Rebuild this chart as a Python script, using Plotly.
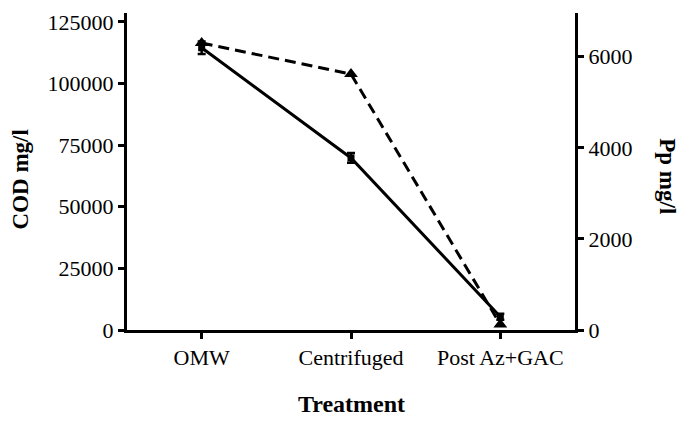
import plotly.graph_objects as go

categories = ["OMW", "Centrifuged", "Post Az+GAC"]
cod_values = [114500, 69800, 5400]
cod_errors = [2500, 2000, 1200]
pp_values = [6300, 5620, 120]

left_ticks = [0, 25000, 50000, 75000, 100000, 125000]
right_ticks = [0, 2000, 4000, 6000]

FONT = "Liberation Serif"
TICK_SIZE = 22
x_idx = list(range(len(categories)))

fig = go.Figure()
fig.add_trace(go.Scatter(
    x=x_idx, y=cod_values, mode="lines+markers", name="COD",
    line=dict(color="black", width=3),
    marker=dict(symbol="square", size=7, color="black"),
    error_y=dict(type="data", array=cod_errors, color="black", thickness=2.5, width=4),
    yaxis="y", cliponaxis=False,
))
fig.add_trace(go.Scatter(
    x=x_idx, y=pp_values, mode="lines+markers", name="Pp",
    line=dict(color="black", width=3, dash="11px,6px"),
    marker=dict(symbol="triangle-up", size=12, color="black"),
    yaxis="y2", cliponaxis=False,
))

axis_common = dict(
    showline=True, linecolor="black", linewidth=3,
    ticks="outside", ticklen=6, tickwidth=3, tickcolor="black",
    showgrid=False, zeroline=False, tickfont=dict(family=FONT, size=TICK_SIZE),
)

fig.update_layout(
    width=683, height=432,
    margin=dict(l=127, r=108, t=10, b=102),
    plot_bgcolor="white", paper_bgcolor="white",
    showlegend=False,
    font=dict(family=FONT, size=TICK_SIZE, color="black"),
    xaxis=dict(tickmode="array", tickvals=x_idx, ticktext=categories,
               range=[-0.5, 2.5], **axis_common),
    yaxis=dict(range=[0, 128600], tickvals=left_ticks,
               ticktext=[str(v) for v in left_ticks], **axis_common),
    yaxis2=dict(range=[0, 6960], tickvals=right_ticks,
                ticktext=[str(v) for v in right_ticks],
                overlaying="y", side="right", anchor="x", **axis_common),
    annotations=[
        dict(text="<b>COD mg/l</b>", xref="paper", yref="paper", x=-0.2388, y=0.475,
             textangle=-90, showarrow=False, font=dict(family=FONT, size=23),
             xanchor="center", yanchor="middle"),
        dict(text="<b>Pp mg/l</b>", xref="paper", yref="paper", x=1.2076, y=0.485,
             textangle=90, showarrow=False, font=dict(family=FONT, size=23),
             xanchor="center", yanchor="middle"),
        dict(text="<b>Treatment</b>", xref="paper", yref="paper", x=0.5, y=-0.234,
             showarrow=False, font=dict(family=FONT, size=24),
             xanchor="center", yanchor="middle"),
    ],
)

fig.write_html("out.html")
